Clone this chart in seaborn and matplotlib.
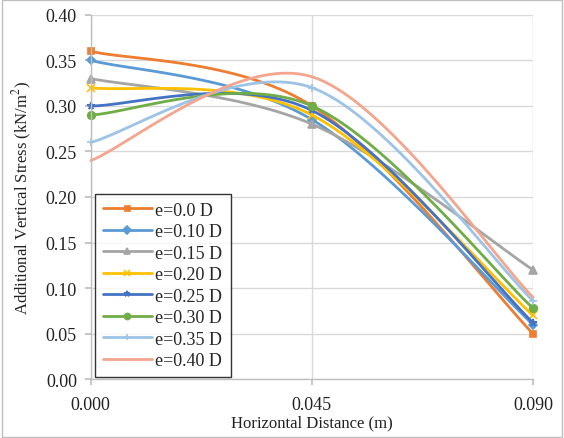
import numpy as np
import matplotlib
matplotlib.use("Agg")
import matplotlib.pyplot as plt
import seaborn as sns

# Data
distance = [0.000, 0.045, 0.090]
labels = ["e=0.0 D", "e=0.10 D", "e=0.15 D", "e=0.20 D",
          "e=0.25 D", "e=0.30 D", "e=0.35 D", "e=0.40 D"]
e00 = [0.36, 0.300, 0.050]
e10 = [0.35, 0.285, 0.060]
e15 = [0.33, 0.280, 0.120]
e20 = [0.32, 0.290, 0.070]
e25 = [0.30, 0.295, 0.062]
e30 = [0.29, 0.300, 0.078]
e35 = [0.26, 0.320, 0.086]
e40 = [0.24, 0.332, 0.090]
series = [e00, e10, e15, e20, e25, e30, e35, e40]

colors = ["#ED7D31", "#5B9BD5", "#A5A5A5", "#FFC000",
          "#4472C4", "#70AD47", "#9DC3E6", "#F4A58E"]
markers = ["s", "D", "^", "x", "*", "o", "+", None]
msizes = [4.5, 4.5, 5.5, 5.5, 5.5, 5.5, 6, 0]


def smooth(xp, yp, n=60):
    # Excel-style smoothed line (Catmull-Rom through the points)
    p = np.column_stack([xp, yp]).astype(float)
    p = np.vstack([p[0], p, p[-1]])
    out = []
    t = np.linspace(0, 1, n, endpoint=False)[:, None]
    for i in range(1, len(p) - 2):
        p0, p1, p2, p3 = p[i - 1], p[i], p[i + 1], p[i + 2]
        c1 = p1 + (p2 - p0) / 6
        c2 = p2 - (p3 - p1) / 6
        seg = ((1 - t) ** 3) * p1 + 3 * ((1 - t) ** 2) * t * c1 + 3 * (1 - t) * t ** 2 * c2 + t ** 3 * p2
        out.append(seg)
    out.append(p[-2][None, :])
    out = np.vstack(out)
    return out[:, 0], out[:, 1], n


sns.set_theme(style="white")
plt.rcParams["font.family"] = ["Liberation Serif", "DejaVu Serif"]
plt.rcParams["mathtext.fontset"] = "stix"

fig, ax = plt.subplots(figsize=(5.64, 4.39), dpi=100)
fig.subplots_adjust(left=0.161, right=0.945, top=0.964, bottom=0.134)

for vals, lab, c, m, ms in zip(series, labels, colors, markers, msizes):
    xs, ys, n = smooth(distance, vals)
    marks = [0, n, 2 * n]
    sns.lineplot(x=xs, y=ys, ax=ax, color=c, linewidth=2, label=lab, sort=False,
                 marker=m, markersize=ms, markevery=marks, markeredgewidth=1.2,
                 markeredgecolor=c, markerfacecolor=c, clip_on=False)

ax.set_xlim(0, 0.09)
ax.set_ylim(0, 0.40)
ax.set_xticks(distance)
ax.set_xticklabels(["0.000", "0.045", "0.090"])
ax.set_yticks(np.arange(0, 0.401, 0.05))
ax.set_yticklabels([f"{v:.2f}" for v in np.arange(0, 0.401, 0.05)])
ax.grid(True, color="#D9D9D9", linewidth=1)
ax.set_axisbelow(True)
for s in ["top", "right"]:
    ax.spines[s].set_visible(False)
for s in ["left", "bottom"]:
    ax.spines[s].set_color("#BFBFBF")
    ax.spines[s].set_linewidth(1)
ax.tick_params(axis="both", which="major", length=4, color="#BFBFBF",
               labelsize=13, labelcolor="#222222", direction="out",
               bottom=True, left=True)
ax.tick_params(axis="x", pad=8)
ax.tick_params(axis="y", pad=6)

ax.set_xlabel("Horizontal Distance (m)", fontsize=12, color="#222222", labelpad=1)
ax.set_ylabel("Additional Vertical Stress (kN/m$^2$)", fontsize=12, color="#222222", labelpad=8)

leg = ax.legend(loc="lower left", bbox_to_anchor=(0.009, 0.005), borderaxespad=0,
                fontsize=13, frameon=True, fancybox=False, edgecolor="#000000",
                handlelength=2.7, labelspacing=0.25, borderpad=0.45, handletextpad=0.2,
                markerscale=0.8)
leg.get_frame().set_linewidth(1)

fig.add_artist(plt.Rectangle((0.003, 0.003), 0.994, 0.994, transform=fig.transFigure,
                             fill=False, edgecolor="#BFBFBF", linewidth=1))

fig.savefig("out.png", dpi=100)
